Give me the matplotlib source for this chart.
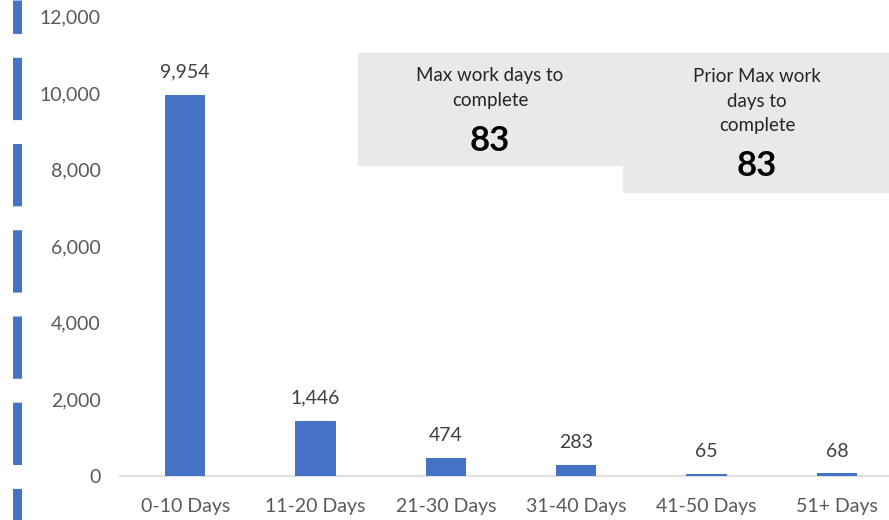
import matplotlib
matplotlib.use("Agg")
import matplotlib.pyplot as plt
from matplotlib.lines import Line2D
from matplotlib.patches import Rectangle
from matplotlib.ticker import FuncFormatter

categories = ["0-10 Days", "11-20 Days", "21-30 Days", "31-40 Days", "41-50 Days", "51+ Days"]
counts = [9954, 1446, 474, 283, 65, 68]
yticks = [0, 2000, 4000, 6000, 8000, 10000, 12000]
box1_title = "Max work days to\ncomplete"
box1_value = "83"
box2_title = "Prior Max work\ndays to\ncomplete"
box2_value = "83"

FONT = "Lato"
BLUE = "#4472C4"
GRAY_TXT = "#595959"
W, H = 889, 520

fig = plt.figure(figsize=(W / 100, H / 100), dpi=100)

# Grey info boxes (behind the axes, axes background is transparent)
box_color = "#e9e9e9"
fig.add_artist(Rectangle((358 / W, 1 - 165 / H), (625 - 358) / W, (165 - 53) / H,
                         transform=fig.transFigure, color=box_color, zorder=0))
fig.add_artist(Rectangle((623 / W, 1 - 192 / H), (889 - 623) / W, (192 - 53) / H,
                         transform=fig.transFigure, color=box_color, zorder=0))

ax = fig.add_axes([120 / W, 44 / H, (902 - 120) / W, (476 - 16.4) / H], zorder=1)
ax.set_facecolor("none")

x = list(range(len(categories)))
ax.bar(x, counts, width=0.31, color=BLUE, zorder=3)
ax.set_xlim(-0.5, 5.5)
ax.set_ylim(0, 12000)
ax.set_yticks(yticks)
ax.yaxis.set_major_formatter(FuncFormatter(lambda v, p: f"{int(v):,}"))
ax.set_xticks(x)
ax.set_xticklabels(categories)
for s in ["top", "right", "left"]:
    ax.spines[s].set_visible(False)
ax.spines["bottom"].set_color("#d9d9d9")
ax.spines["bottom"].set_linewidth(1.2)
ax.tick_params(axis="both", length=0, colors=GRAY_TXT, labelsize=14)
ax.tick_params(axis="y", pad=14)
ax.tick_params(axis="x", pad=16)
for lab in ax.get_xticklabels() + ax.get_yticklabels():
    lab.set_fontfamily(FONT)
    lab.set_color(GRAY_TXT)

for xi, v in zip(x, counts):
    ax.annotate(f"{v:,}", (xi, v), xytext=(0, 10), textcoords="offset points",
                ha="center", va="bottom", fontsize=14, color="#404040", family=FONT)

# Decorative dashed left bar (drawn from the top down)
fig.add_artist(Line2D([17 / W, 17 / W], [1, 0], transform=fig.transFigure,
                      color=BLUE, linewidth=6.5, linestyle=(3.2, (6.9, 2.65)),
                      solid_capstyle="butt", zorder=2))

fig.text(490 / W, 1 - 88 / H, box1_title, ha="center", va="center", fontsize=13.5,
         color="#262626", family=FONT, linespacing=1.55, zorder=3)
fig.text(490 / W, 1 - 141 / H, box1_value, ha="center", va="center", fontsize=25,
         fontweight="bold", color="black", family=FONT, zorder=3)
fig.text(757 / W, 1 - 101 / H, box2_title, ha="center", va="center", fontsize=13.5,
         color="#262626", family=FONT, linespacing=1.55, zorder=3)
fig.text(757 / W, 1 - 166 / H, box2_value, ha="center", va="center", fontsize=25,
         fontweight="bold", color="black", family=FONT, zorder=3)

fig.savefig("out.png", dpi=100)
